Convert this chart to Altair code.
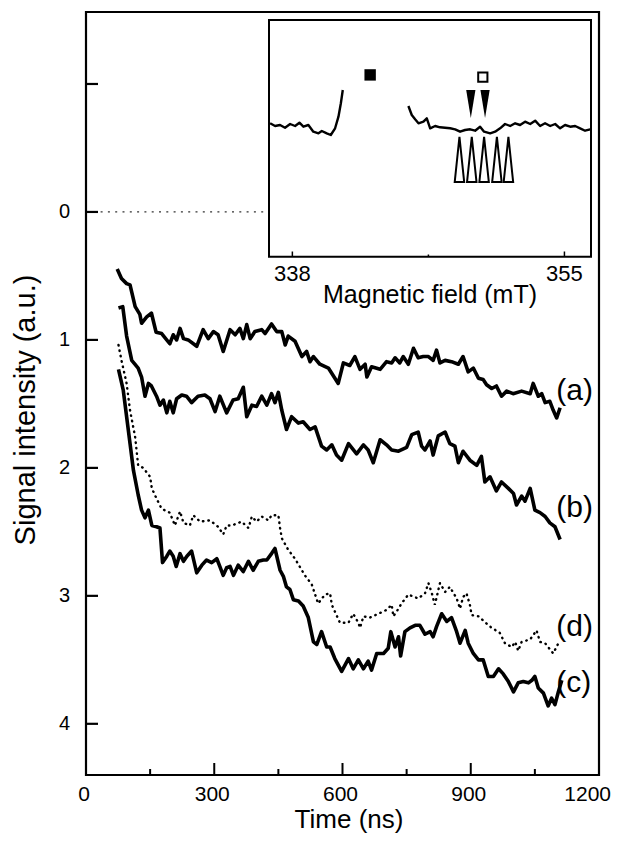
import altair as alt
import pandas as pd

FONT = "Liberation Sans"
W, H = 513, 763

# ---------------- main panel data (time in ns, signal intensity a.u.) ----------------
A_T = [73,83,95,103,115,126,130,142,153,164,177,196,204,212,220,228,239,259,274,286,
       298,309,321,337,349,360,368,376,384,395,411,419,434,446,458,466,473,489,505,516,
       524,532,547,567,590,602,617,629,641,653,657,668,688,703,715,723,734,742,754,766,
       777,789,801,812,820,828,840,855,871,882,894,906,918,929,937,949,960,972,984,999,
       1019,1039,1046,1058,1066,1074,1085,1093,1101,1109]
A_V = [0.445,0.52,0.56,0.57,0.74,0.80,0.87,0.82,0.79,0.94,0.95,1.03,0.96,1.0,0.91,0.99,1.0,1.05,0.92,0.99,
       0.935,0.96,1.09,0.92,0.96,0.91,0.99,0.88,0.99,0.935,0.92,0.95,0.875,0.935,0.935,1.04,0.97,1.01,1.13,1.09,
       1.17,1.13,1.19,1.22,1.34,1.18,1.20,1.13,1.23,1.19,1.29,1.21,1.23,1.17,1.18,1.14,1.18,1.13,1.19,1.065,
       1.14,1.13,1.13,1.16,1.08,1.18,1.16,1.17,1.19,1.13,1.25,1.22,1.30,1.31,1.35,1.38,1.36,1.44,1.40,1.42,
       1.40,1.42,1.34,1.44,1.42,1.49,1.48,1.55,1.61,1.53]

B_T = [76,86,95,107,122,130,138,146,153,165,173,181,189,196,204,212,224,235,247,262,
       278,290,302,313,329,344,356,368,376,388,399,411,423,434,442,450,458,469,481,497,
       508,524,536,543,551,563,575,586,598,614,633,649,660,672,688,703,715,731,750,762,
       777,785,793,805,812,824,840,851,863,871,882,898,914,925,933,945,960,972,988,1000,
       1007,1019,1027,1039,1050,1062,1074,1085,1097,1109]
B_V = [0.75,0.74,0.97,1.16,1.22,1.29,1.44,1.34,1.36,1.44,1.51,1.47,1.57,1.48,1.57,1.46,1.43,1.44,1.49,1.44,
       1.43,1.46,1.56,1.44,1.57,1.47,1.46,1.37,1.60,1.51,1.52,1.44,1.51,1.42,1.49,1.41,1.55,1.70,1.60,1.65,
       1.64,1.70,1.68,1.75,1.83,1.86,1.82,1.90,1.94,1.81,1.89,1.82,1.86,1.96,1.78,1.82,1.86,1.87,1.84,1.74,
       1.72,1.83,1.86,1.79,1.90,1.75,1.72,1.81,1.83,1.96,1.87,1.94,1.98,1.91,2.11,2.07,2.18,2.11,2.16,2.20,
       2.29,2.22,2.26,2.16,2.33,2.35,2.38,2.43,2.46,2.56]

C_T = [76,87,103,111,122,130,138,146,154,165,173,179,189,196,204,211,220,228,236,247,
       259,271,282,294,306,313,321,329,337,345,356,368,380,391,403,415,423,434,442,454,
       462,469,477,485,497,508,520,532,540,551,563,571,582,598,614,625,637,649,660,668,
       680,696,707,713,723,731,736,746,758,770,781,793,805,812,820,832,844,855,867,875,
       887,894,906,918,929,941,953,965,976,988,1000,1011,1023,1035,1043,1050,1058,1070,1081,1089,
       1097,1105,1113]
C_V = [1.23,1.39,1.81,2.02,2.21,2.33,2.39,2.33,2.45,2.46,2.47,2.74,2.69,2.65,2.69,2.77,2.67,2.73,2.69,2.65,
       2.82,2.76,2.72,2.74,2.71,2.77,2.84,2.78,2.77,2.84,2.76,2.81,2.73,2.80,2.73,2.72,2.72,2.67,2.63,2.80,
       2.85,2.93,2.95,3.03,3.04,3.08,3.17,3.36,3.38,3.28,3.40,3.40,3.49,3.59,3.49,3.57,3.50,3.57,3.51,3.58,
       3.45,3.45,3.41,3.28,3.40,3.32,3.47,3.28,3.25,3.23,3.23,3.30,3.28,3.32,3.24,3.14,3.20,3.17,3.28,3.37,
       3.27,3.37,3.45,3.50,3.50,3.63,3.63,3.57,3.61,3.67,3.75,3.68,3.67,3.68,3.66,3.63,3.72,3.76,3.86,3.80,
       3.85,3.75,3.66]

D_T = [76,83,95,103,115,122,134,150,154,165,177,196,208,220,228,243,251,267,290,309,
       321,329,341,364,380,388,399,411,427,434,450,454,458,473,489,512,528,536,543,559,
       571,575,594,614,625,637,641,649,664,684,703,715,719,731,738,754,777,793,801,809,
       816,828,840,851,867,875,882,890,898,902,918,945,968,980,996,1004,1011,1019,1039,1054,
       1062,1074,1081,1093,1105]
D_V = [1.04,1.16,1.34,1.55,1.76,1.98,2.0,2.07,2.16,2.24,2.32,2.35,2.45,2.34,2.43,2.45,2.37,2.42,2.41,2.46,
       2.52,2.45,2.45,2.42,2.47,2.38,2.42,2.38,2.41,2.37,2.37,2.47,2.55,2.64,2.71,2.84,2.91,2.99,3.06,2.99,
       2.98,3.07,3.21,3.21,3.14,3.21,3.25,3.16,3.17,3.14,3.11,3.07,3.16,3.10,3.06,2.99,3.02,2.98,2.90,2.98,
       3.07,2.90,2.97,2.93,3.02,3.10,3.01,2.98,3.07,3.15,3.16,3.24,3.29,3.37,3.40,3.36,3.43,3.36,3.34,3.27,
       3.36,3.37,3.40,3.45,3.37]

CURVE_LABELS = ["(a)", "(b)", "(d)", "(c)"]
LABEL_T = [1100, 1100, 1100, 1100]
LABEL_V = [1.47, 2.38, 3.31, 3.75]

X_MAJOR = [0, 300, 600, 900, 1200]
X_MINOR = [150, 450, 750, 1050]
Y_TICKS = [-1, 0, 1, 2, 3, 4]
Y_LABELED = [0, 1, 2, 3, 4]
ZERO_LINE = [0, 430]   # dotted baseline at 0, runs under the inset
X_TITLE = "Time (ns)"
Y_TITLE = "Signal intensity (a.u.)"

# ---------------- inset data (magnetic field mT, EPR intensity a.u.) ----------------
LEFT_B = [336.61,336.92,337.23,337.54,337.86,338.17,338.44,338.69,339.0,339.31,339.63,339.84,340.15,340.40,340.67,340.88,341.03,341.15]
LEFT_I = [56.36,55.22,55.64,54.5,56.06,55.22,56.61,54.92,55.64,52.81,52.13,53.1,52.13,51.42,54.25,59.15,64.81,70.43]
RIGHT_B = [345.25,345.46,345.67,345.88,346.19,346.40,346.61,346.92,347.23,347.54,
           347.86,348.17,348.48,348.79,349.11,349.42,349.73,349.98,350.36,350.67,
           350.98,351.29,351.61,351.92,352.23,352.54,352.86,353.17,353.48,353.79,
           354.11,354.42,354.73,355.04,355.36,355.67,355.98,356.29,356.61]
RIGHT_I = [63.67,59.87,58.05,56.36,57.03,58.47,54.25,55.22,54.67,54.5,
           54.25,53.82,52.81,53.53,53.82,53.23,54.92,52.81,52.13,52.81,
           54.25,56.06,55.22,56.36,55.64,57.03,56.06,57.46,55.22,56.36,
           55.22,56.06,54.25,55.64,54.92,55.22,54.25,53.23,53.82]
SQ_FILLED_B, SQ_FILLED_I = [342.86], [76.8]
SQ_OPEN_B, SQ_OPEN_I = [349.90], [75.9]
DOWN_B, DOWN_I = [349.15, 350.04], [64.5, 64.5]
UP_B, UP_I = [348.44, 349.21, 349.98, 350.78, 351.50], [41.1, 41.1, 41.1, 41.1, 41.1]
INSET_B = [336.54, 356.66]
INSET_I = [0, 100]
INSET_MAJOR = [338, 355]
INSET_MINOR = [346.5]
INSET_TITLE = "Magnetic field (mT)"

# ---------------- build tables ----------------
rows = []
for name, ts, vs in [("a", A_T, A_V), ("b", B_T, B_V), ("c", C_T, C_V)]:
    for t, v in zip(ts, vs):
        rows.append({"curve": name, "t": t, "v": v})
solid_df = pd.DataFrame(rows)
dot_df = pd.DataFrame({"t": D_T, "v": D_V})
lab_df = pd.DataFrame({"t": LABEL_T, "v": LABEL_V, "label": CURVE_LABELS})

spec_rows = [{"seg": "L", "B": b, "I": i} for b, i in zip(LEFT_B, LEFT_I)] + \
            [{"seg": "R", "B": b, "I": i} for b, i in zip(RIGHT_B, RIGHT_I)]
spec_df = pd.DataFrame(spec_rows)

xs = alt.Scale(domain=[0, 1200], nice=False, zero=False)
ys = alt.Scale(domain=[-1.5625, 4.4], reverse=True, nice=False, zero=False)


def X(f="t"):
    return alt.X(f"{f}:Q", scale=xs, axis=None)


def Y(f="v"):
    return alt.Y(f"{f}:Q", scale=ys, axis=None)


base_solid = alt.Chart(solid_df).mark_line(color="black", strokeWidth=3.6, strokeJoin="round").encode(
    x=X(), y=Y(), detail="curve:N")
dotted = alt.Chart(dot_df).mark_line(color="black", strokeWidth=2.4, strokeDash=[0.5, 5], strokeCap="round").encode(
    x=X(), y=Y())
zero_line = alt.Chart(pd.DataFrame({"t": [ZERO_LINE[0]], "t2": [ZERO_LINE[1]], "v": [0]})).mark_rule(
    color="#333", strokeWidth=1.3, strokeDash=[2, 5.3]).encode(x=X(), x2="t2:Q", y=Y())
labels = alt.Chart(lab_df).mark_text(align="left", baseline="alphabetic", fontSize=30, font=FONT,
                                     color="black").encode(x=X(), y=Y(), text="label:N")
xmaj = alt.Chart(pd.DataFrame({"t": X_MAJOR})).mark_rule(color="black", strokeWidth=2).encode(
    x=X(), y=alt.value(H), y2=alt.value(H - 12))
xmin = alt.Chart(pd.DataFrame({"t": X_MINOR})).mark_rule(color="black", strokeWidth=2).encode(
    x=X(), y=alt.value(H), y2=alt.value(H - 6))
yt = alt.Chart(pd.DataFrame({"v": Y_TICKS})).mark_rule(color="black", strokeWidth=2.2).encode(
    y=Y(), x=alt.value(0), x2=alt.value(12))
xlab = alt.Chart(pd.DataFrame({"t": X_MAJOR[:-1]})).mark_text(
    fontSize=21, font=FONT, color="black", baseline="alphabetic", align="center", dx=-2).encode(
    x=X(), y=alt.value(H + 26), text=alt.Text("t:Q", format="d"))
xlab_last = alt.Chart(pd.DataFrame({"t": X_MAJOR[-1:]})).mark_text(
    fontSize=21, font=FONT, color="black", baseline="alphabetic", align="right", dx=12).encode(
    x=X(), y=alt.value(H + 26), text=alt.Text("t:Q", format="d"))
ylab = alt.Chart(pd.DataFrame({"v": Y_LABELED})).mark_text(
    fontSize=20, font=FONT, color="black", baseline="middle", align="right").encode(
    y=Y(), x=alt.value(-16), text=alt.Text("v:Q", format="d"))
xtitle = alt.Chart(pd.DataFrame({"s": [X_TITLE]})).mark_text(
    fontSize=26, font=FONT, color="black", baseline="alphabetic", align="center").encode(
    x=alt.value(263), y=alt.value(H + 53), text="s:N")
ytitle = alt.Chart(pd.DataFrame({"s": [Y_TITLE]})).mark_text(
    fontSize=29, font=FONT, color="black", baseline="alphabetic", align="center", angle=270).encode(
    x=alt.value(-51), y=alt.value(398), text="s:N")

main = alt.layer(zero_line, base_solid, dotted, labels, xmaj, xmin, yt, xlab, xlab_last, ylab, xtitle, ytitle)

# ---------------- inset ----------------
ixs = alt.Scale(domain=INSET_B, range=[183, 505], nice=False, zero=False)
iys = alt.Scale(domain=INSET_I, range=[244.7, 8], nice=False, zero=False)


def IX(f="B"):
    return alt.X(f"{f}:Q", scale=ixs, axis=None)


def IY(f="I"):
    return alt.Y(f"{f}:Q", scale=iys, axis=None)


frame = alt.Chart(pd.DataFrame({"B": [INSET_B[0]], "B2": [INSET_B[1]], "I": [INSET_I[0]], "I2": [INSET_I[1]]})
                  ).mark_rect(fill="white", stroke="black", strokeWidth=2).encode(
    x=IX(), x2="B2:Q", y=IY(), y2="I2:Q")
spec = alt.Chart(spec_df).mark_line(color="black", strokeWidth=2.4, strokeJoin="round").encode(
    x=IX(), y=IY(), detail="seg:N")
sqf = alt.Chart(pd.DataFrame({"B": SQ_FILLED_B, "I": SQ_FILLED_I})).mark_point(
    shape="square", size=130, filled=True, color="black", opacity=1).encode(x=IX(), y=IY())
sqo = alt.Chart(pd.DataFrame({"B": SQ_OPEN_B, "I": SQ_OPEN_I})).mark_point(
    shape="square", size=85, filled=False, color="black", strokeWidth=2, opacity=1).encode(x=IX(), y=IY())
down = alt.Chart(pd.DataFrame({"B": DOWN_B, "I": DOWN_I})).mark_point(
    shape="M-0.33,-1L0.33,-1L0,1Z", size=784, filled=True, color="black", opacity=1).encode(x=IX(), y=IY())
up = alt.Chart(pd.DataFrame({"B": UP_B, "I": UP_I})).mark_point(
    shape="M-0.21,1L0.21,1L0,-1Z", size=2025, filled=False, color="black", strokeWidth=2,
    fill="white", opacity=1).encode(x=IX(), y=IY())
imaj = alt.Chart(pd.DataFrame({"B": INSET_MAJOR})).mark_rule(color="black", strokeWidth=1.5).encode(
    x=IX(), y=alt.value(244.7), y2=alt.value(239.5))
imin = alt.Chart(pd.DataFrame({"B": INSET_MINOR})).mark_rule(color="black", strokeWidth=1.5).encode(
    x=IX(), y=alt.value(244.7), y2=alt.value(242.5))
ilab = alt.Chart(pd.DataFrame({"B": INSET_MAJOR})).mark_text(
    fontSize=22, font=FONT, color="black", baseline="alphabetic", align="center").encode(
    x=IX(), y=alt.value(268.5), text=alt.Text("B:Q", format="d"))
ititle = alt.Chart(pd.DataFrame({"s": [INSET_TITLE]})).mark_text(
    fontSize=25, font=FONT, color="black", baseline="alphabetic", align="center").encode(
    x=alt.value(344), y=alt.value(291), text="s:N")

inset = alt.layer(frame, spec, sqf, sqo, down, up, imaj, imin, ilab, ititle)

chart = alt.layer(main, inset).resolve_scale(x="independent", y="independent").properties(
    width=W, height=H,
    autosize=alt.AutoSizeParams(type="none"),
    padding={"left": 78, "top": 4, "right": 13, "bottom": 58},
).configure_view(stroke="black", strokeWidth=2.2)

chart.save("out.html", embed_options={"renderer": "svg", "actions": False})
